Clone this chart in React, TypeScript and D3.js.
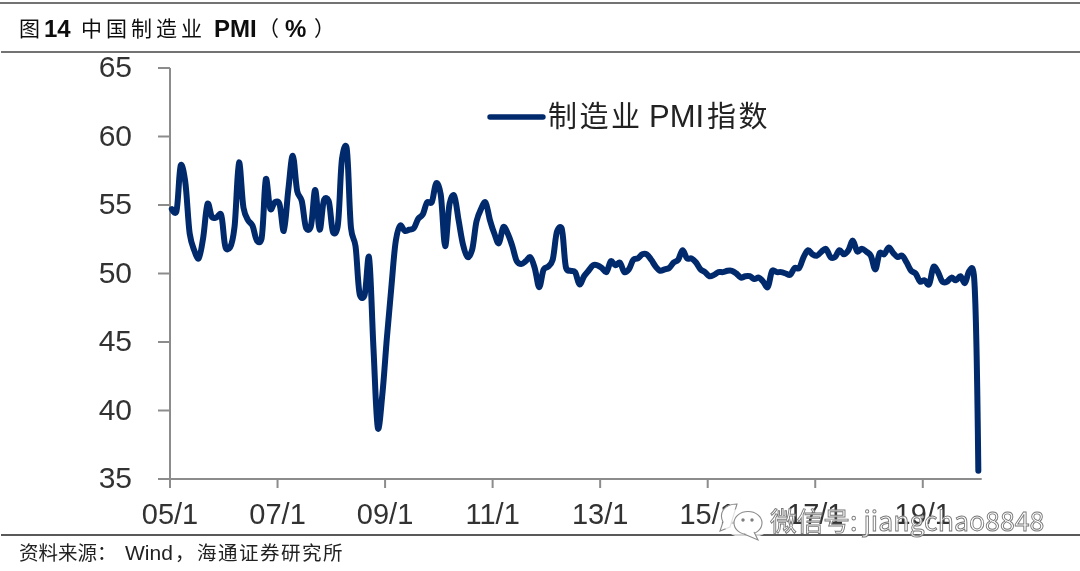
import React from "react";
import * as d3 from "d3";

const pmi2005 = [54.7, 54.5, 57.9, 56.7, 52.9, 51.7, 51.1, 52.6, 55.1, 54.1, 54.1, 54.3];
const pmi2006 = [51.9, 51.9, 53.4, 58.1, 54.8, 53.9, 53.5, 52.4, 52.5, 56.9, 54.7, 55.2];
const pmi2007 = [55.1, 53.1, 56.1, 58.6, 56.0, 55.3, 53.3, 53.4, 56.1, 53.2, 55.4, 55.3];
const pmi2008 = [53.0, 53.4, 58.4, 59.2, 53.3, 52.0, 48.4, 48.4, 51.2, 44.6, 38.7, 41.2];
const pmi2009 = [45.3, 49.0, 52.4, 53.5, 53.1, 53.2, 53.3, 54.0, 54.3, 55.2, 55.2, 56.6];
const pmi2010 = [55.8, 52.0, 55.1, 55.7, 53.9, 52.1, 51.2, 51.7, 53.8, 54.7, 55.2, 53.9];
const pmi2011 = [52.9, 52.2, 53.4, 52.9, 52.0, 50.9, 50.7, 50.9, 51.2, 50.4, 49.0, 50.3];
const pmi2012 = [50.5, 51.0, 53.1, 53.3, 50.4, 50.2, 50.1, 49.2, 49.8, 50.2, 50.6, 50.6];
const pmi2013 = [50.4, 50.1, 50.9, 50.6, 50.8, 50.1, 50.3, 51.0, 51.1, 51.4, 51.4, 51.0];
const pmi2014 = [50.5, 50.2, 50.3, 50.4, 50.8, 51.0, 51.7, 51.1, 51.1, 50.8, 50.3, 50.1];
const pmi2015 = [49.8, 49.9, 50.1, 50.1, 50.2, 50.2, 50.0, 49.7, 49.8, 49.8, 49.6, 49.7];
const pmi2016 = [49.4, 49.0, 50.2, 50.1, 50.1, 50.0, 49.9, 50.4, 50.4, 51.2, 51.7, 51.4];
const pmi2017 = [51.3, 51.6, 51.8, 51.2, 51.2, 51.7, 51.4, 51.7, 52.4, 51.6, 51.8, 51.6];
const pmi2018 = [51.3, 50.3, 51.5, 51.4, 51.9, 51.5, 51.2, 51.3, 50.8, 50.2, 50.0, 49.4];
const pmi2019 = [49.5, 49.2, 50.5, 50.1, 49.4, 49.4, 49.7, 49.5, 49.8, 49.3, 50.2, 49.9];
const pmi2020 = [35.6];

const pmi = [
  ...pmi2005, ...pmi2006, ...pmi2007, ...pmi2008, ...pmi2009, ...pmi2010, ...pmi2011, ...pmi2012,
  ...pmi2013, ...pmi2014, ...pmi2015, ...pmi2016, ...pmi2017, ...pmi2018, ...pmi2019, ...pmi2020,
];

const yTicks = [35, 40, 45, 50, 55, 60, 65];
const xTickLabels = ["05/1", "07/1", "09/1", "11/1", "13/1", "15/1", "17/1", "19/1"];
const xTickMonths = [0, 24, 48, 72, 96, 120, 144, 168];
const seriesName = "制造业";
const seriesCode = "PMI";
const seriesTail = "指数";
const watermark = "微信号: jiangchao8848";

const CJK = "'Noto Sans CJK SC', sans-serif";
const LATIN = "'Liberation Sans', Arial, sans-serif";
const AXIS = "#8c8c8c";
const NAVY = "#012a6c";

export default function App() {
  const x = d3.scaleLinear().domain([0, 181.15]).range([170, 981.7]);
  const y = d3.scaleLinear().domain([35, 65]).range([479, 68]);
  const line = d3
    .line<number>()
    .x((_, i) => x(i + 0.4))
    .y((d) => y(d))
    .curve(d3.curveCatmullRom.alpha(0.2));

  return (
    <div style={{ position: "absolute", left: 0, top: 0 }}>
      <svg width={1080} height={571} style={{ display: "block" }}>
        <defs>
          <filter id="soft" x="-2%" y="-2%" width="104%" height="104%">
            <feGaussianBlur stdDeviation="0.5" />
          </filter>
        </defs>
        <rect width={1080} height={571} fill="#fff" />

        <g filter="url(#soft)">
          <line x1={0} x2={1080} y1={3} y2={3} stroke="#444" strokeWidth={1.4} />
          <line x1={1} x2={1080} y1={52} y2={52} stroke="#444" strokeWidth={1.4} />
          <line x1={1} x2={1080} y1={535} y2={535} stroke="#222" strokeWidth={1.4} />

          <g fontFamily={CJK} fontSize={21} fill="#111">
            <text x={19} y={36}>图</text>
            <text x={44} y={37} fontFamily={LATIN} fontWeight={700} fontSize={24}>14</text>
            <text x={81} y={36} letterSpacing={4}>中国制造业</text>
            <text x={214} y={37} fontFamily={LATIN} fontWeight={700} fontSize={24}>PMI</text>
            <text x={258} y={36}>（</text>
            <text x={285} y={37} fontFamily={LATIN} fontWeight={700} fontSize={24}>%</text>
            <text x={314} y={36}>）</text>
          </g>

          <g stroke={AXIS} strokeWidth={2} fill="none">
            <line x1={170} x2={170} y1={y(65)} y2={y(35)} />
            <line x1={158} x2={x(181.15)} y1={y(35)} y2={y(35)} />
            {yTicks.map((t) => (
              <line key={t} x1={158} x2={170} y1={y(t)} y2={y(t)} />
            ))}
            {xTickMonths.map((m) => (
              <line key={m} x1={x(m)} x2={x(m)} y1={y(35)} y2={488} />
            ))}
          </g>

          <g fontFamily={LATIN} fontSize={30} fill="#333">
            {yTicks.map((t) => (
              <text key={t} x={132} y={y(t) + 9} textAnchor="end">{t}</text>
            ))}
          </g>
          <g fontFamily={LATIN} fontSize={29} fill="#333">
            {xTickLabels.map((l, i) => (
              <text key={l} x={x(xTickMonths[i])} y={524} textAnchor="middle">{l}</text>
            ))}
          </g>

          <path d={line(pmi) ?? ""} fill="none" stroke={NAVY} strokeWidth={6} strokeLinejoin="round" strokeLinecap="round" />

          <line x1={490} x2={543} y1={117} y2={117} stroke={NAVY} strokeWidth={5.4} strokeLinecap="round" />
          <g fontSize={29} fill="#222">
            <text x={548} y={127} fontFamily={CJK} letterSpacing={2.5}>{seriesName}</text>
            <text x={649} y={127} fontFamily={LATIN} fontSize={31}>{seriesCode}</text>
            <text x={707} y={127} fontFamily={CJK} letterSpacing={2.5}>{seriesTail}</text>
          </g>

          <g fontFamily={CJK} fontSize={19.5} fill="#222">
            <text x={19} y={560}>资料来源：</text>
            <text x={125} y={560} fontFamily={LATIN} fontSize={21}>Wind</text>
            <text x={175} y={560}>，</text>
            <text x={197} y={560} letterSpacing={1.5}>海通证券研究所</text>
          </g>

          <g stroke="#8a8a8a" strokeWidth={1.1} fill="#fff">
            <path d="M 737 504 C 723 504 719 514 723 522 L 720 531 L 730 527 Z" fill="#fff" />
            <ellipse cx={749} cy={522} rx={25} ry={16} transform="rotate(-6 749 522)" fill="#fff" stroke="none" opacity={0.75} />
            <ellipse cx={748} cy={523} rx={14} ry={11.5} />
            <path d="M 744 534 L 758 540 L 754 532" />
            <circle cx={743} cy={520} r={1.2} fill="#666" />
            <circle cx={752} cy={520} r={1.2} fill="#666" />
          </g>
          <text
            x={770}
            y={531}
            fontFamily={CJK}
            fontSize={26.7}
            fill="#fff"
            fillOpacity={0.85}
            stroke="#777"
            strokeWidth={0.9}
          >
            {watermark}
          </text>
        </g>
      </svg>
    </div>
  );
}
